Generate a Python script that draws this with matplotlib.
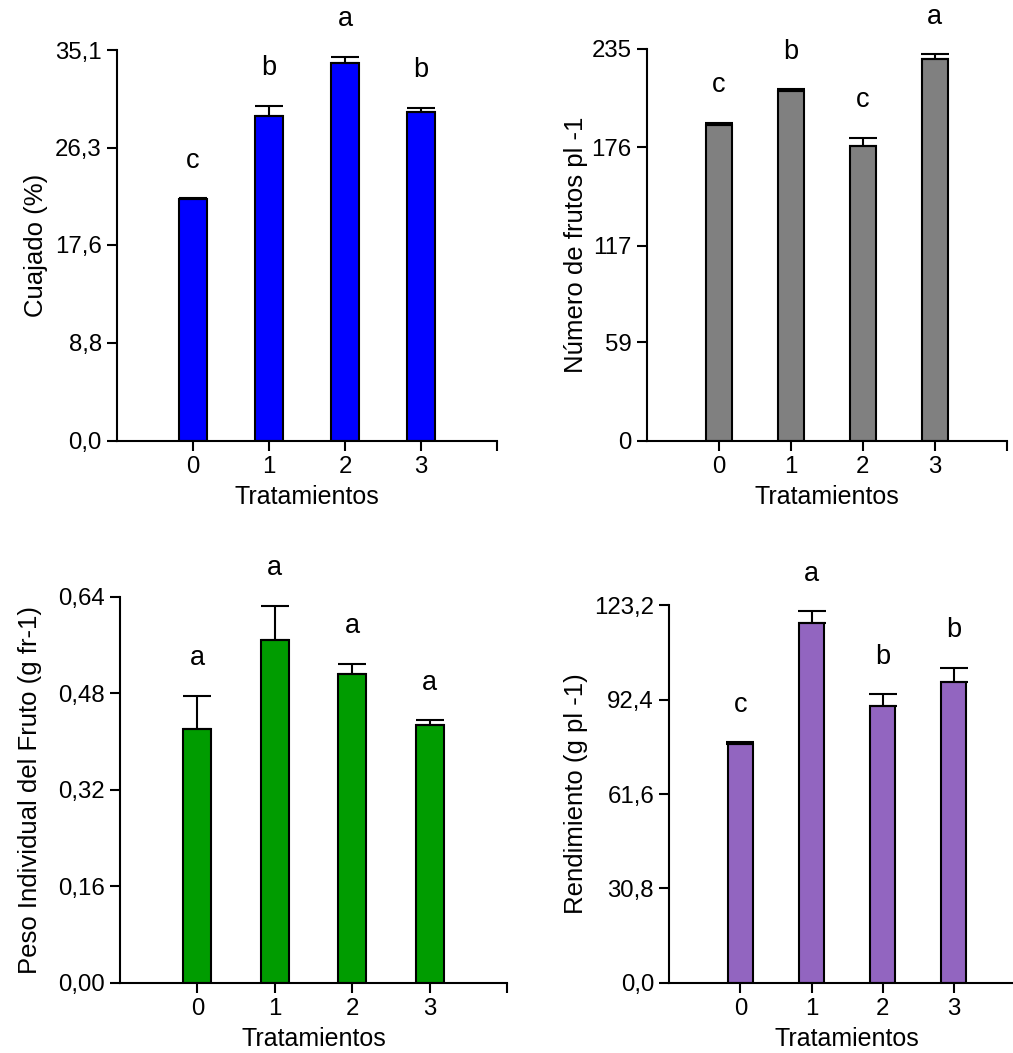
import matplotlib
matplotlib.use("Agg")
import matplotlib.pyplot as plt

plt.rcParams['font.family'] = ['Liberation Sans', 'DejaVu Sans']

# ---------------- data ----------------
tratamientos = ["0", "1", "2", "3"]

cuajado = [21.7, 29.2, 33.95, 29.5]
cuajado_err = [0.1, 0.9, 0.55, 0.4]
cuajado_letras = ["c", "b", "a", "b"]
cuajado_ticks = [0.0, 8.8, 17.6, 26.3, 35.1]
cuajado_ticklabels = ["0,0", "8,8", "17,6", "26,3", "35,1"]

frutos = [189.5, 210.0, 177.0, 228.8]
frutos_err = [1.2, 1.0, 4.8, 3.0]
frutos_letras = ["c", "b", "c", "a"]
frutos_ticks = [0, 59, 117, 176, 235]
frutos_ticklabels = ["0", "59", "117", "176", "235"]

peso = [0.421, 0.569, 0.512, 0.427]
peso_err = [0.055, 0.056, 0.017, 0.008]
peso_letras = ["a", "a", "a", "a"]
peso_ticks = [0.00, 0.16, 0.32, 0.48, 0.64]
peso_ticklabels = ["0,00", "0,16", "0,32", "0,48", "0,64"]

rend = [77.9, 117.3, 90.3, 98.1]
rend_err = [0.6, 4.0, 3.8, 4.7]
rend_letras = ["c", "a", "b", "b"]
rend_ticks = [0.0, 30.8, 61.6, 92.4, 123.2]
rend_ticklabels = ["0,0", "30,8", "61,6", "92,4", "123,2"]

# ---------------- figure ----------------
W, H = 1013, 1053
fig = plt.figure(figsize=(W / 100, H / 100), dpi=100)


def add_ax(x0, x1, ytop, ybot):
    return fig.add_axes([x0 / W, 1 - ybot / H, (x1 - x0) / W, (ybot - ytop) / H])


panels = [
    (117, 497, 50, 440.7, cuajado, cuajado_err, cuajado_letras, cuajado_ticks,
     cuajado_ticklabels, "#0000ff", "Cuajado (%)", 48),
    (646.7, 1006.7, 49, 440.7, frutos, frutos_err, frutos_letras, frutos_ticks,
     frutos_ticklabels, "#808080", "Número de frutos pl -1", 588),
    (120, 507, 596.7, 982.7, peso, peso_err, peso_letras, peso_ticks,
     peso_ticklabels, "#009c00", "Peso Individual del Fruto (g fr-1)", 42),
    (669.3, 1024.8, 605.3, 982.7, rend, rend_err, rend_letras, rend_ticks,
     rend_ticklabels, "#9265c0", "Rendimiento (g pl -1)", 588),
]

xpos = list(range(len(tratamientos)))

for (x0, x1, yt, yb, vals, errs, letras, ticks, tlabels, color, ylabel, ylx) in panels:
    ax = add_ax(x0, x1, yt, yb)
    ax.bar(xpos, vals, width=0.36, color=color, edgecolor="black", linewidth=1.5, zorder=2)
    ax.errorbar(xpos, vals, yerr=[[0] * len(errs), errs], fmt="none", ecolor="black",
                elinewidth=1.5, capsize=10, capthick=1.5, zorder=3)
    for xi, v, e, l in zip(xpos, vals, errs, letras):
        ax.annotate(l, xy=(xi, v + e), xytext=(0, 27), textcoords="offset points",
                    ha="center", va="center", fontsize=19.5, annotation_clip=False)
    ax.set_xlim(-1, 4)
    ax.set_ylim(ticks[0], ticks[-1])
    ax.set_xticks(xpos + [4])
    ax.set_xticklabels(tratamientos + [""])
    ax.set_yticks(ticks)
    ax.set_yticklabels(tlabels)
    for s in ["top", "right"]:
        ax.spines[s].set_visible(False)
    for s in ["left", "bottom"]:
        ax.spines[s].set_linewidth(1.5)
    ax.tick_params(direction="out", length=7, width=1.5, labelsize=17.3, pad=4)
    ax.set_xlabel("Tratamientos", fontsize=18, labelpad=5)
    ax.set_ylabel(ylabel, fontsize=18.5)
    ax.yaxis.set_label_coords((ylx - x0) / (x1 - x0), 0.5)
    ax.patch.set_visible(False)

fig.savefig("out.png", dpi=100)
